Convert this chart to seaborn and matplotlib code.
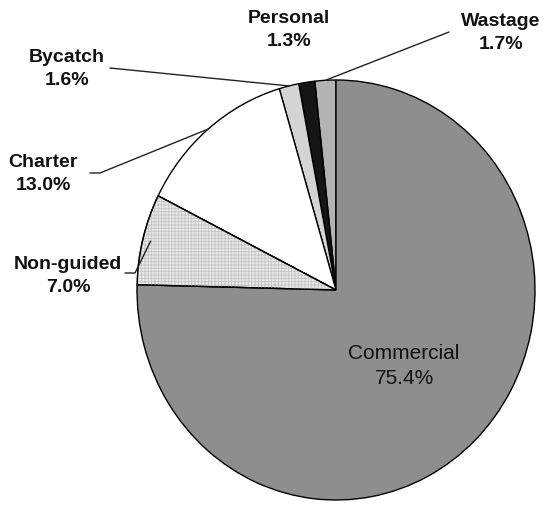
import matplotlib
matplotlib.use("Agg")
import matplotlib.pyplot as plt
import numpy as np
import seaborn as sns

# slices listed counter-clockwise from 12 o'clock
categories = ["Wastage", "Personal", "Bycatch", "Charter", "Non-guided", "Commercial"]
shares = [1.7, 1.3, 1.6, 13.0, 7.0, 75.4]
pct_labels = ["1.7%", "1.3%", "1.6%", "13.0%", "7.0%", "75.4%"]

colors = ["#b3b3b3", "#151515", "#d4d4d4", "#ffffff", "#e8e8e8", "#8e8e8e"]

sns.set_style("white")
plt.rcParams["font.family"] = ["Liberation Sans", "DejaVu Sans"]
plt.rcParams["hatch.linewidth"] = 0.6

W, H = 546, 511
fig = plt.figure(figsize=(W / 100, H / 100), dpi=100)
# pie centre at (336, 290) px, radii 199 x 210 px
cx, cy, rx, ry = 336, 290, 199, 210
ax = fig.add_axes([(cx - rx) / W, (H - cy - ry) / H, 2 * rx / W, 2 * ry / H])

wedges, _ = ax.pie(shares, colors=colors, startangle=90, counterclock=True,
                   wedgeprops=dict(edgecolor="black", linewidth=1.0))
ax.set_xlim(-1, 1)
ax.set_ylim(-1, 1)
ax.set_aspect("auto")
ax.axis("off")

# fine grid texture on the Non-guided slice
ng = wedges[categories.index("Non-guided")]
ax.add_patch(matplotlib.patches.Wedge((0, 0), 1, ng.theta1, ng.theta2, facecolor="none",
                                      edgecolor="#c4c4c4", hatch="+++++", linewidth=0))
ax.add_patch(matplotlib.patches.Wedge((0, 0), 1, ng.theta1, ng.theta2, facecolor="none",
                                      edgecolor="black", linewidth=1.0))


def px2data(px, py):
    return (px - cx) / rx, (cy - py) / ry


# label placement in pixels: (text centre, leader start points)
layout = {
    "Personal": ((289, 30), None, "bold"),
    "Wastage": ((501, 33), [(449, 32)], "bold"),
    "Bycatch": ((67, 69), [(110, 68)], "bold"),
    "Charter": ((43, 174), [(90, 173), (100, 173)], "bold"),
    "Non-guided": ((68, 276), [(125, 273), (135, 273)], "bold"),
    "Commercial": ((404, 366), None, "normal"),
}

for w, name, pct in zip(wedges, categories, pct_labels):
    (tx, ty), lead, weight = layout[name]
    fig.text(tx / W, 1 - ty / H, f"{name}\n{pct}", ha="center", va="center",
             fontsize=14 if name != "Commercial" else 15, fontweight=weight,
             linespacing=1.45, color="#111111")
    if lead:
        mid = np.deg2rad((w.theta1 + w.theta2) / 2)
        r = 0.96 if name == "Non-guided" else 1.0
        pts = [px2data(*p) for p in lead] + [(r * np.cos(mid), r * np.sin(mid))]
        xs, ys = zip(*pts)
        ax.plot(xs, ys, color="#222222", linewidth=1.0, clip_on=False)

fig.savefig("out.png", dpi=100)
